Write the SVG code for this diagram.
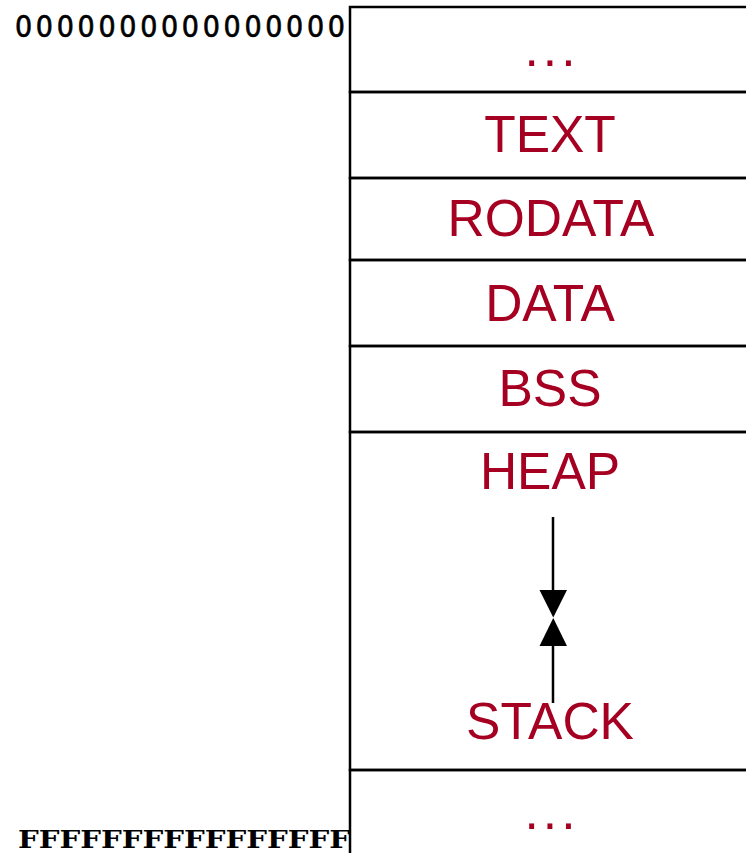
<svg xmlns="http://www.w3.org/2000/svg" width="746" height="853" viewBox="0 0 746 853">
<style>
.seg{fill:none;stroke:#000;stroke-width:2.5}
.lbl{font-family:"Liberation Sans",Arial,sans-serif;font-size:51.5px;fill:#A50021;text-anchor:middle}
.dots{letter-spacing:4px}
.addr0{font-family:"DejaVu Sans Condensed","DejaVu Sans",Verdana,sans-serif;font-size:30px;fill:#000;stroke:#000;stroke-width:0.6}
.addrF{font-family:"DejaVu Serif","Liberation Serif",serif;font-weight:bold;font-size:25px;fill:#000}
.conn{stroke:#000;stroke-width:2.5;fill:none}
</style>
<rect width="746" height="853" fill="#fff"/>
<g id="addresses">
<text id="addr-low" class="addr0" x="15" y="37" textLength="330" lengthAdjust="spacing">0000000000000000</text>
<text id="addr-high" class="addrF" x="18" y="848" textLength="332" lengthAdjust="spacingAndGlyphs">FFFFFFFFFFFFFFFF</text>
</g>
<g id="seg-top"><rect class="seg" x="350" y="7" width="410" height="85"/><text class="lbl dots" x="552" y="66">...</text></g>
<g id="seg-text"><rect class="seg" x="350" y="92" width="410" height="86"/><text class="lbl" x="550" y="152">TEXT</text></g>
<g id="seg-rodata"><rect class="seg" x="350" y="178" width="410" height="82"/><text class="lbl" x="551" y="236">RODATA</text></g>
<g id="seg-data"><rect class="seg" x="350" y="260" width="410" height="86"/><text class="lbl" x="550" y="321">DATA</text></g>
<g id="seg-bss"><rect class="seg" x="350" y="346" width="410" height="86"/><text class="lbl" x="550" y="406">BSS</text></g>
<g id="seg-heapstack"><rect class="seg" x="350" y="432" width="410" height="338"/><text class="lbl" x="550" y="489">HEAP</text><text class="lbl" x="550" y="739">STACK</text></g>
<g id="seg-bottom"><rect class="seg" x="350" y="770" width="410" height="100"/><text class="lbl dots" x="552" y="829">...</text></g>
<g id="connectors">
<path d="M553,517 L553,590" class="conn"/>
<path d="M539.5,590 L567,590 L553.25,617.5 Z" fill="#000"/>
<path d="M553,703 L553,646" class="conn"/>
<path d="M539.5,646 L567,646 L553.25,618 Z" fill="#000"/>
</g>
</svg>
